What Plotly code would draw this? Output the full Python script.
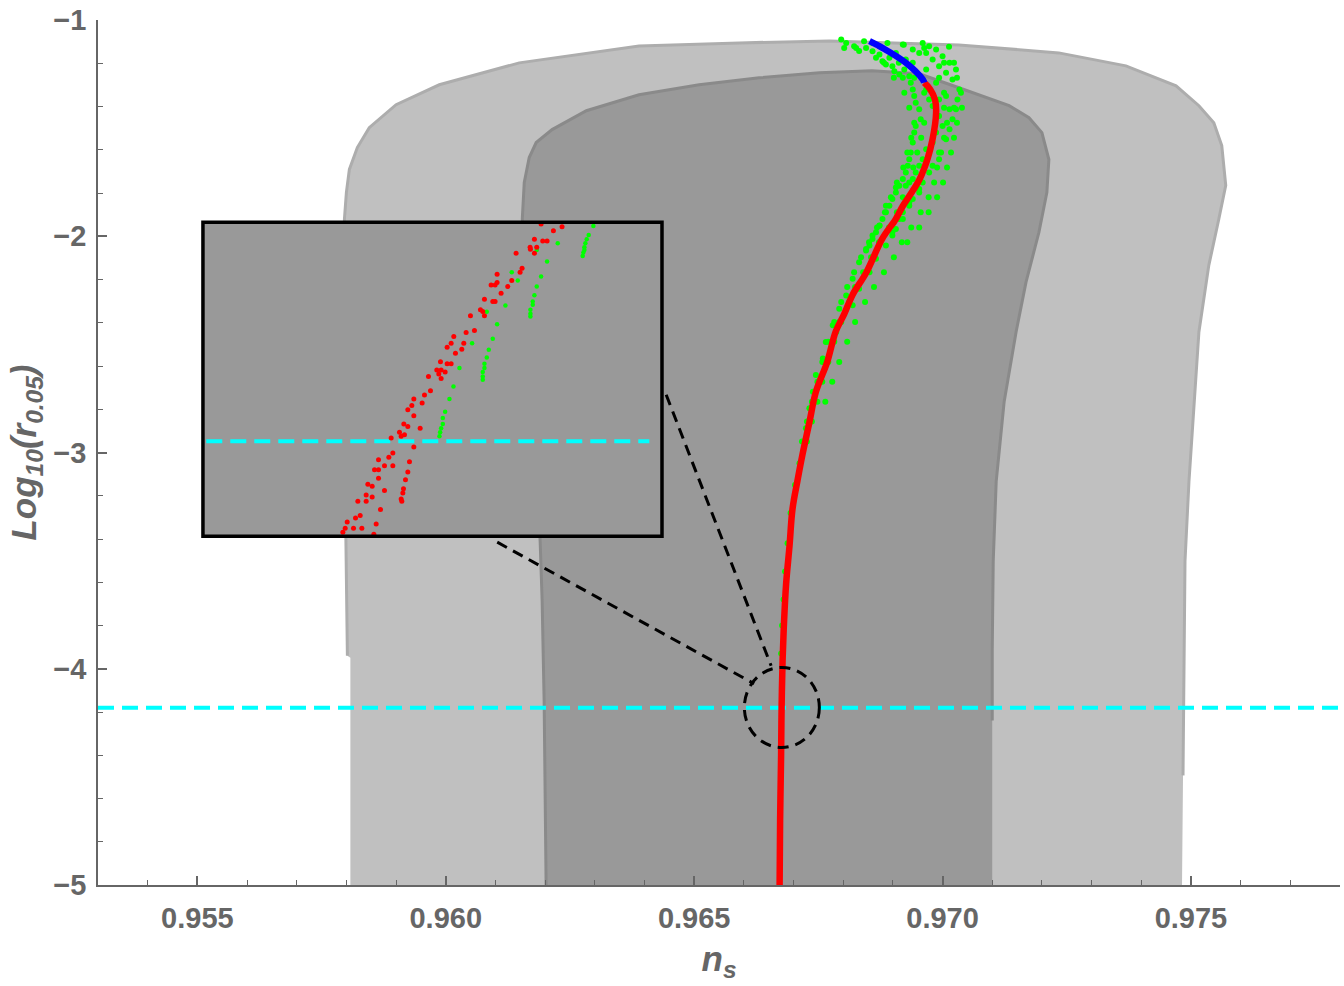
import plotly.graph_objects as go

# ---------------- data (n_s , log10 r) ----------------
# outer (2-sigma) region boundary
outer_x = [0.95808, 0.95808, 0.95802, 0.95798, 0.95796, 0.95796, 0.95800, 0.95806, 0.95822,
           0.95846, 0.95900, 0.95987, 0.96148, 0.96389, 0.96591, 0.96772, 0.97033, 0.97234,
           0.97369, 0.97470, 0.97516, 0.97546, 0.97562, 0.97570, 0.97556, 0.97536, 0.97516,
           0.97506, 0.97496, 0.97488, 0.97486, 0.97484, 0.97482]
outer_y = [-5.0, -3.9493, -3.9401, -3.2258, -2.3041, -1.9217, -1.7972, -1.6912, -1.5899,
           -1.4977, -1.3917, -1.2995, -1.1982, -1.1198, -1.1060, -1.0968, -1.1152, -1.1521,
           -1.2120, -1.3041, -1.3963, -1.4747, -1.5806, -1.7650, -1.9217, -2.1336, -2.4424,
           -2.7650, -3.1336, -3.5023, -3.9171, -4.4931, -5.0]

# inner (1-sigma) region boundary
inner_x = [0.96202, 0.96198, 0.96194, 0.96190, 0.96182, 0.96172, 0.96162, 0.96154, 0.96158,
           0.96168, 0.96182, 0.96214, 0.96283, 0.96389, 0.96510, 0.96631, 0.96752, 0.96858,
           0.96953, 0.97033, 0.97134, 0.97174, 0.97200, 0.97214, 0.97210, 0.97194, 0.97168,
           0.97148, 0.97124, 0.97108, 0.97102, 0.97100, 0.97100, 0.97100]
inner_y = [-5.0, -4.1475, -3.6866, -3.4101, -2.9954, -2.5346, -2.0737, -1.9217, -1.7512,
           -1.6359, -1.5668, -1.5069, -1.4194, -1.3456, -1.2995, -1.2673, -1.2442, -1.2350,
           -1.2488, -1.3134, -1.3963, -1.4516, -1.5207, -1.6452, -1.7972, -1.9816, -2.2120,
           -2.4424, -2.7650, -3.1336, -3.5023, -3.9171, -4.2396, -5.0]

# red curve
red_x = [0.96672, 0.96673, 0.96675, 0.96676, 0.96678, 0.96681, 0.96685, 0.96692, 0.96698,
         0.96708, 0.96718, 0.96732, 0.96745, 0.96768, 0.96785, 0.96802, 0.96819, 0.96846,
         0.96879, 0.96906, 0.96920, 0.96940, 0.96953, 0.96970, 0.96980, 0.96987, 0.96985,
         0.96975, 0.96963]
red_y = [-5.0, -4.70, -4.40, -4.18, -3.96, -3.78, -3.61, -3.43, -3.26, -3.13, -3.01, -2.86,
         -2.72, -2.58, -2.44, -2.36, -2.27, -2.17, -2.01, -1.92, -1.86, -1.79, -1.74, -1.64,
         -1.55, -1.43, -1.37, -1.32, -1.29]

# blue curve
blue_x = [0.96963, 0.96960, 0.96926, 0.96879, 0.96853]
blue_y = [-1.290, -1.275, -1.198, -1.129, -1.098]

# green scatter points
green_x = [0.96796, 0.96806, 0.96822, 0.96826, 0.96842, 0.96846, 0.96859, 0.96866, 0.96873,
           0.96879, 0.96886, 0.96893, 0.96899, 0.96903, 0.96913, 0.96920, 0.96923, 0.96933,
           0.96936, 0.96940, 0.96943, 0.96946, 0.96953, 0.96956, 0.96946, 0.96943, 0.96940,
           0.96936, 0.96933, 0.96930, 0.96926, 0.96920, 0.96913, 0.96906, 0.96899, 0.96893,
           0.96886, 0.96879, 0.96873, 0.96866, 0.96859, 0.96853, 0.96846,
           0.96889, 0.96920, 0.96940, 0.96960, 0.96967, 0.96973, 0.96980, 0.96987, 0.96993,
           0.97000, 0.97007, 0.97014, 0.97020, 0.97027, 0.97034, 0.97030, 0.97027, 0.97020,
           0.97014, 0.97007, 0.96993, 0.96993, 0.96980, 0.96973, 0.96960, 0.96953, 0.96940,
           0.96933, 0.96920, 0.96913, 0.96906, 0.96899,
           0.96967, 0.96973, 0.96980, 0.96993, 0.97000, 0.96987, 0.96980, 0.96967, 0.96960,
           0.96953, 0.96946, 0.96940, 0.96926,
           0.96953, 0.96940, 0.96967, 0.96987, 0.97007, 0.96993, 0.97014, 0.96906, 0.96926,
           0.96859, 0.96873,
           0.96906, 0.96886, 0.96873, 0.96859, 0.96846, 0.96832, 0.96819, 0.96806, 0.96792,
           0.96779, 0.96765, 0.96759, 0.96745, 0.96739, 0.96732, 0.96725,
           0.96953, 0.96933, 0.96920, 0.96899, 0.96886, 0.96866, 0.96853, 0.96832, 0.96819,
           0.96792, 0.96786,
           0.96722, 0.96712, 0.96703, 0.96694, 0.96688, 0.96683, 0.96680, 0.96677, 0.96675,
           0.96802, 0.96832, 0.96922, 0.96963, 0.97013,
           0.96882, 0.96912, 0.97003, 0.97023,
           0.96902, 0.96943, 0.96993, 0.97029,
           0.96923, 0.96963, 0.97003, 0.97037,
           0.96933, 0.97003, 0.97023, 0.97039,
           0.96943, 0.96963, 0.97009, 0.97029,
           0.96937, 0.96957, 0.97003, 0.97023,
           0.96929, 0.96949, 0.96997, 0.97017,
           0.96921, 0.96941, 0.96989, 0.97009,
           0.96908, 0.96933, 0.96983, 0.97001,
           0.96896, 0.96920, 0.96972, 0.96989,
           0.96884, 0.96908, 0.96956, 0.96972,
           0.96868, 0.96892, 0.96937, 0.96953,
           0.96852, 0.96872, 0.96918, 0.96929,
           0.96836, 0.96856, 0.96902,
           0.96822, 0.96840, 0.96882,
           0.96808, 0.96824, 0.96862,
           0.96796, 0.96812, 0.96844,
           0.96782, 0.96796, 0.96824,
           0.96770, 0.96782, 0.96808,
           0.96758, 0.96770, 0.96792,
           0.96748, 0.96758, 0.96778,
           0.96737, 0.96748, 0.96764,
           0.96727, 0.96737,
           0.96717, 0.96727]
green_y = [-1.0906, -1.1060, -1.1213, -1.1290, -1.0983, -1.1290, -1.1444, -1.1751, -1.1597,
           -1.1905, -1.2058, -1.1751, -1.2135, -1.2365, -1.2519, -1.2673, -1.2289, -1.2596,
           -1.2903, -1.3210, -1.3517, -1.3825, -1.4132, -1.4593, -1.4900, -1.5207, -1.5668,
           -1.6129, -1.6436, -1.6743, -1.7050, -1.7357, -1.7665, -1.7972, -1.8279, -1.8586,
           -1.8894, -1.9201, -1.9508, -1.9815, -2.0123, -2.0430, -2.0660,
           -1.1060, -1.1137, -1.1367, -1.1060, -1.1521, -1.1213, -1.1828, -1.1367, -1.2135,
           -1.1674, -1.2442, -1.1981, -1.2749, -1.2289, -1.3210, -1.3671, -1.4132, -1.4593,
           -1.5053, -1.5514, -1.6129, -1.6436, -1.6743, -1.7050, -1.7511, -1.7972, -1.8279,
           -1.8586, -1.8894, -1.9201, -1.9662, -1.9969,
           -1.3210, -1.3671, -1.3978, -1.4439, -1.4900, -1.5207, -1.5668, -1.5975, -1.6436,
           -1.6743, -1.7050, -1.7357, -1.7665,
           -1.1521, -1.1981, -1.2289, -1.2903, -1.3517, -1.3671, -1.4132, -1.1521, -1.1828,
           -1.1060, -1.1213,
           -1.7742, -1.8587, -1.9509, -1.9970, -2.0584, -2.1199, -2.1967, -2.2735, -2.3349,
           -2.4117, -2.4885, -2.5653, -2.6421, -2.7190, -2.7957, -2.8879,
           -1.7819, -1.8434, -1.9202, -1.9816, -2.0431, -2.1045, -2.1659, -2.2427, -2.3196,
           -2.3964, -2.4424,
           -2.95, -3.05, -3.15, -3.28, -3.42, -3.55, -3.68, -3.80, -3.93,
           -1.129, -1.143, -1.115, -1.129, -1.124,
           -1.198, -1.198, -1.198, -1.198,
           -1.267, -1.267, -1.267, -1.267,
           -1.336, -1.336, -1.336, -1.336,
           -1.406, -1.406, -1.406, -1.406,
           -1.475, -1.475, -1.475, -1.475,
           -1.544, -1.544, -1.544, -1.544,
           -1.613, -1.613, -1.613, -1.613,
           -1.682, -1.682, -1.682, -1.682,
           -1.751, -1.751, -1.751, -1.751,
           -1.820, -1.820, -1.820, -1.820,
           -1.889, -1.889, -1.889, -1.889,
           -1.959, -1.959, -1.959, -1.959,
           -2.028, -2.028, -2.028, -2.028,
           -2.097, -2.097, -2.097,
           -2.166, -2.166, -2.166,
           -2.235, -2.235, -2.235,
           -2.304, -2.304, -2.304,
           -2.396, -2.396, -2.396,
           -2.488, -2.488, -2.488,
           -2.581, -2.581, -2.581,
           -2.673, -2.673, -2.673,
           -2.765, -2.765, -2.765,
           -2.857, -2.857,
           -2.949, -2.949]

# horizontal reference line
cyan_level = -4.18

# ---------------- inset (magnified view) data ----------------
INSET_X_RANGE = [0.96655, 0.9668256]
INSET_Y_RANGE = [-4.294, -3.9168]
inset_cyan_x = [0.966552, 0.966818]

inset_red_x = [0.9667530, 0.9667656, 0.9667604, 0.9667490, 0.9667540, 0.9667566, 0.9667464,
               0.9667504, 0.9667466, 0.9667490, 0.9667380, 0.9667416, 0.9667404, 0.9667354,
               0.9667266, 0.9667230, 0.9667254, 0.9667266, 0.9667330, 0.9667290, 0.9667190,
               0.9667240, 0.9667254, 0.9667166, 0.9667180, 0.9667190, 0.9667106, 0.9667130,
               0.9667080, 0.9667006, 0.9666990, 0.9666966, 0.9667066, 0.9667054, 0.9667016,
               0.9666926, 0.9666966, 0.9666990, 0.9666904, 0.9666930, 0.9666954, 0.9666916,
               0.9666930, 0.9666854, 0.9666866, 0.9666830, 0.9666766, 0.9666816, 0.9666754,
               0.9666730, 0.9666766, 0.9666706, 0.9666730, 0.9666804, 0.9666680, 0.9666710,
               0.9666630, 0.9666690, 0.9666766, 0.9666640, 0.9666616, 0.9666554, 0.9666590,
               0.9666640, 0.9666530, 0.9666554, 0.9666740, 0.9666730, 0.9666554, 0.9666716,
               0.9666490, 0.9666516, 0.9666704, 0.9666700, 0.9666480, 0.9666516, 0.9666690,
               0.9666694, 0.9666430, 0.9666480, 0.9666590, 0.9666566, 0.9666444, 0.9666416,
               0.9666366, 0.9666404, 0.9666454, 0.9666354, 0.9666340, 0.9666540, 0.9666526]
inset_red_y = [-3.9188, -3.9220, -3.9268, -3.9372, -3.9392, -3.9392, -3.9468, -3.9468, -3.9492,
               -3.9540, -3.9540, -3.9720, -3.9768, -3.9868, -3.9792, -3.9920, -3.9920, -3.9892,
               -3.9940, -4.0020, -4.0092, -4.0120, -4.0120, -4.0220, -4.0240, -4.0292, -4.0292,
               -4.0468, -4.0492, -4.0540, -4.0620, -4.0668, -4.0620, -4.0692, -4.0740, -4.0844,
               -4.0868, -4.0868, -4.0944, -4.0944, -4.0968, -4.0992, -4.1044, -4.1020, -4.1192,
               -4.1244, -4.1292, -4.1340, -4.1368, -4.1420, -4.1492, -4.1592, -4.1620, -4.1644,
               -4.1692, -4.1720, -4.1760, -4.1740, -4.1868, -4.1940, -4.1992, -4.2020, -4.2092,
               -4.2092, -4.2140, -4.2140, -4.2044, -4.2168, -4.2244, -4.2260, -4.2316, -4.2340,
               -4.2368, -4.2420, -4.2444, -4.2468, -4.2492, -4.2520, -4.2520, -4.2520, -4.2392,
               -4.2620, -4.2692, -4.2720, -4.2768, -4.2844, -4.2844, -4.2844, -4.2892, -4.2792,
               -4.2916]

inset_green_x = [0.9667844, 0.9667816, 0.9667804, 0.9667796, 0.9667790, 0.9667790, 0.9667784,
                 0.9667780, 0.9667630, 0.9667566, 0.9667504, 0.9667530, 0.9667504, 0.9667490,
                 0.9667480, 0.9667480, 0.9667466, 0.9667466, 0.9667466, 0.9667354, 0.9667390,
                 0.9667316, 0.9667204, 0.9667266, 0.9667240, 0.9667216, 0.9667204, 0.9667190,
                 0.9667190, 0.9667180, 0.9667180, 0.9667180, 0.9667116, 0.9667040, 0.9667004,
                 0.9666980, 0.9666954, 0.9666940, 0.9666940, 0.9666930, 0.9666924, 0.9666920]
inset_green_y = [-3.9212, -3.9320, -3.9372, -3.9420, -3.9468, -3.9500, -3.9532, -3.9572,
                 -3.9420, -3.9640, -3.9500, -3.9820, -3.9940, -4.0044, -4.0120, -4.0160,
                 -4.0220, -4.0268, -4.0300, -3.9768, -3.9868, -4.0168, -4.0244, -4.0392,
                 -4.0568, -4.0700, -4.0792, -4.0868, -4.0920, -4.0968, -4.1020, -4.1060,
                 -4.0620, -4.0920, -4.1140, -4.1292, -4.1444, -4.1520, -4.1592, -4.1644,
                 -4.1692, -4.1740]

# zoom circle and connector lines (data coordinates)
circle_x = [0.96601, 0.96752]
circle_y = [-4.364, -3.994]
connector1 = [(0.964437, -2.7327), (0.966549, -3.9862)]
connector2 = [(0.961036, -3.4147), (0.966207, -4.0691)]

x_ticks = [0.955, 0.960, 0.965, 0.970, 0.975]
x_ticktext = ["0.955", "0.960", "0.965", "0.970", "0.975"]
y_ticks = [-5, -4, -3, -2, -1]

# inset placement (paper fractions)
INSET_DOM_X = [0.0845, 0.4541]
INSET_DOM_Y = [0.4032, 0.7661]

# ---------------- figure ----------------
LIGHT = "#c0c0c0"
LIGHT_EDGE = "#adadad"
DARK = "#999999"
DARK_EDGE = "#8a8a8a"
AXC = "#666666"

fig = go.Figure()

fig.add_trace(go.Scatter(x=outer_x, y=outer_y, fill="toself", fillcolor=LIGHT,
                         mode="lines", line=dict(width=0), hoverinfo="skip"))
fig.add_trace(go.Scatter(x=outer_x[2:-1], y=outer_y[2:-1], mode="lines",
                         line=dict(color=LIGHT_EDGE, width=3), hoverinfo="skip"))
fig.add_trace(go.Scatter(x=inner_x, y=inner_y, fill="toself", fillcolor=DARK,
                         mode="lines", line=dict(width=0), hoverinfo="skip"))
fig.add_trace(go.Scatter(x=inner_x[:-1], y=inner_y[:-1], mode="lines",
                         line=dict(color=DARK_EDGE, width=3), hoverinfo="skip"))

fig.add_trace(go.Scatter(x=[0.953, 0.978], y=[cyan_level, cyan_level], mode="lines",
                         line=dict(color="#00ffff", width=4, dash="16px,8px")))

fig.add_trace(go.Scatter(x=green_x, y=green_y, mode="markers",
                         marker=dict(color="#00ff00", size=6, line=dict(width=0))))
fig.add_trace(go.Scatter(x=red_x, y=red_y, mode="lines",
                         line=dict(color="#ff0000", width=6.5, shape="spline")))
fig.add_trace(go.Scatter(x=blue_x, y=blue_y, mode="lines",
                         line=dict(color="#0000ff", width=6.5, shape="spline")))

# inset traces
fig.add_trace(go.Scatter(x=inset_cyan_x, y=[cyan_level, cyan_level], mode="lines",
                         xaxis="x2", yaxis="y2",
                         line=dict(color="#00ffff", width=4, dash="16px,8px")))
fig.add_trace(go.Scatter(x=inset_green_x, y=inset_green_y, mode="markers",
                         xaxis="x2", yaxis="y2",
                         marker=dict(color="#00ff00", size=4.5, line=dict(width=0))))
fig.add_trace(go.Scatter(x=inset_red_x, y=inset_red_y, mode="markers",
                         xaxis="x2", yaxis="y2",
                         marker=dict(color="#ff0000", size=5, line=dict(width=0))))

shapes = [
    dict(type="rect", xref="x2", yref="y2",
         x0=INSET_X_RANGE[0], x1=INSET_X_RANGE[1], y0=INSET_Y_RANGE[0], y1=INSET_Y_RANGE[1],
         fillcolor=DARK, line=dict(width=0), layer="below"),
    dict(type="rect", xref="paper", yref="paper",
         x0=INSET_DOM_X[0], x1=INSET_DOM_X[1], y0=INSET_DOM_Y[0], y1=INSET_DOM_Y[1],
         line=dict(color="black", width=3.5), fillcolor="rgba(0,0,0,0)", layer="above"),
    dict(type="circle", xref="x", yref="y", x0=circle_x[0], x1=circle_x[1],
         y0=circle_y[0], y1=circle_y[1],
         line=dict(color="black", width=3, dash="11px,7px"), layer="above"),
]
for (p0, p1) in (connector1, connector2):
    shapes.append(dict(type="line", xref="x", yref="y", x0=p0[0], y0=p0[1], x1=p1[0], y1=p1[1],
                       line=dict(color="black", width=3, dash="11px,7px"), layer="above"))

tickfont = dict(family="Liberation Sans, Arial, sans-serif", size=29, color=AXC, weight="bold")
titlefont = dict(family="Liberation Sans, Arial, sans-serif", size=35, color=AXC,
                 weight="bold", style="italic")

fig.update_layout(
    width=1344, height=986,
    margin=dict(l=98, r=4, t=17, b=101),
    paper_bgcolor="white", plot_bgcolor="white",
    showlegend=False,
    shapes=shapes,
    xaxis=dict(range=[0.953, 0.978], tickvals=x_ticks, ticktext=x_ticktext,
               ticks="inside", ticklen=9, tickwidth=1.5, tickcolor=AXC,
               minor=dict(dtick=0.001, tick0=0.955, ticks="inside", ticklen=5,
                          tickwidth=1.2, tickcolor=AXC, showgrid=False),
               showline=True, linecolor=AXC, linewidth=1.5, mirror=False,
               showgrid=False, zeroline=False, tickfont=tickfont,
               ticklabelstandoff=6,
               title=dict(text="n<sub>s</sub>", font=titlefont, standoff=14)),
    yaxis=dict(range=[-5, -1], tickvals=y_ticks,
               ticks="inside", ticklen=9, tickwidth=1.5, tickcolor=AXC,
               minor=dict(dtick=0.2, tick0=-5, ticks="inside", ticklen=5,
                          tickwidth=1.2, tickcolor=AXC, showgrid=False),
               showline=True, linecolor=AXC, linewidth=1.5, mirror=False,
               showgrid=False, zeroline=False, tickfont=tickfont,
               ticklabelstandoff=4,
               title=dict(text="Log<sub>10</sub>(r<sub>0.05</sub>)", font=titlefont, standoff=6)),
    xaxis2=dict(domain=INSET_DOM_X, range=INSET_X_RANGE, anchor="y2", visible=False,
                showgrid=False, zeroline=False),
    yaxis2=dict(domain=INSET_DOM_Y, range=INSET_Y_RANGE, anchor="x2", visible=False,
                showgrid=False, zeroline=False),
)

fig.write_html("out.html")
